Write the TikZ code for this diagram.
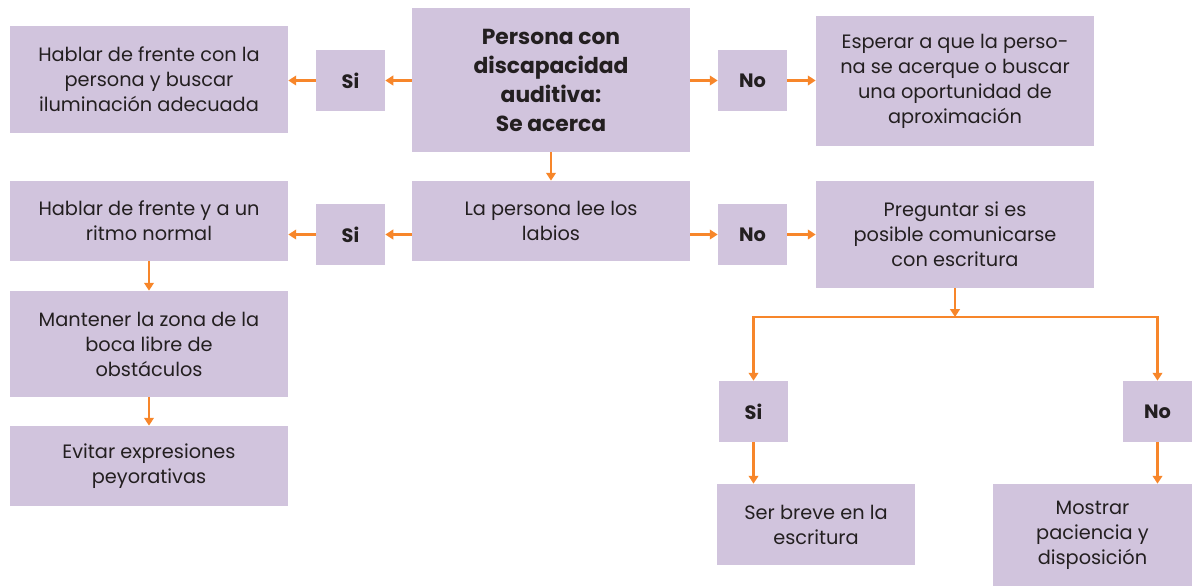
\documentclass[tikz,border=0pt]{standalone}
\usepackage{fontspec}
\setmainfont{Poppins}
\usetikzlibrary{arrows.meta}
\definecolor{lila}{HTML}{D1C4DD}
\definecolor{naranja}{HTML}{F7862A}
\definecolor{tinta}{HTML}{231F20}

\begin{document}
\begin{tikzpicture}[x=0.02cm,y=-0.02cm,
    box/.style={fill=lila,text=tinta,inner sep=0pt,align=center,font=\fontsize{11}{14.2}\selectfont},
    sino/.style={box,minimum width=1.38cm,minimum height=1.22cm,font=\fontsize{11}{13}\selectfont\bfseries},
    arr/.style={draw=naranja,line width=1.3pt,-{Triangle[length=4.5pt,width=5.5pt]}}]
    \useasboundingbox (0,0) rectangle (1192,586);
    % fila de arriba
    \node[box,minimum width=5.56cm,minimum height=2.88cm,font=\fontsize{12.4}{16.5}\selectfont\bfseries] (main) at (551,80) {Persona con\\discapacidad\\auditiva:\\Se acerca};
    \node[sino] (si1) at (350.5,80.5) {Si};
    \node[box,minimum width=5.56cm,minimum height=2.14cm] (frente1) at (149,79.5) {Hablar de frente con la\\persona y buscar\\iluminación adecuada};
    \node[sino] (no1) at (752.5,80.5) {No};
    \node[box,minimum width=5.56cm,minimum height=2.6cm] (esperar) at (955,81) {Esperar a que la perso-\\na se acerque o buscar\\una oportunidad de\\aproximación};
    % segunda fila
    \node[box,minimum width=5.56cm,minimum height=1.6cm] (labios) at (551,221) {La persona lee los\\labios};
    \node[sino] (si2) at (350.5,234.5) {Si};
    \node[box,minimum width=5.56cm,minimum height=1.6cm] (frente2) at (149,221) {Hablar de frente y a un\\ritmo normal};
    \node[sino] (no2) at (752.5,234.5) {No};
    \node[box,minimum width=5.56cm,minimum height=2.14cm] (preguntar) at (955,234.5) {Preguntar si es\\posible comunicarse\\con escritura};
    % columna izquierda
    \node[box,minimum width=5.56cm,minimum height=2.12cm] (mantener) at (149,344) {Mantener la zona de la\\boca libre de\\obstáculos};
    \node[box,minimum width=5.56cm,minimum height=1.6cm] (evitar) at (149,466) {Evitar expresiones\\peyorativas};
    % rama derecha
    \coordinate (split) at (955,317);
    \node[sino] (si3) at (753.5,411.5) {Si};
    \node[sino] (no3) at (1157.5,411.5) {No};
    \node[box,minimum width=3.96cm,minimum height=1.62cm] (breve) at (816,524.5) {Ser breve en la\\escritura};
    \node[box,minimum width=3.98cm,minimum height=2.04cm] (mostrar) at (1092.5,535) {Mostrar\\paciencia y\\disposición};

    \draw[arr] (si1.east -| main.west) -- (si1.east);
    \draw[arr] (si1.west) -- (si1.west -| frente1.east);
    \draw[arr] (no1.west -| main.east) -- (no1.west);
    \draw[arr] (no1.east) -- (no1.east -| esperar.west);
    \draw[arr] (main.south) -- (labios.north);
    \draw[arr] (si2.east -| labios.west) -- (si2.east);
    \draw[arr] (si2.west) -- (si2.west -| frente2.east);
    \draw[arr] (no2.west -| labios.east) -- (no2.west);
    \draw[arr] (no2.east) -- (no2.east -| preguntar.west);
    \draw[arr] (frente2.south) -- (mantener.north);
    \draw[arr] (mantener.south) -- (evitar.north);
    \draw[arr] (preguntar.south) -- (split);
    \draw[arr] (split) -| (si3.north);
    \draw[arr] (split) -| (no3.north);
    \draw[arr] (si3.south) -- (si3.south |- breve.north);
    \draw[arr] (no3.south) -- (no3.south |- mostrar.north);
\end{tikzpicture}
\end{document}
